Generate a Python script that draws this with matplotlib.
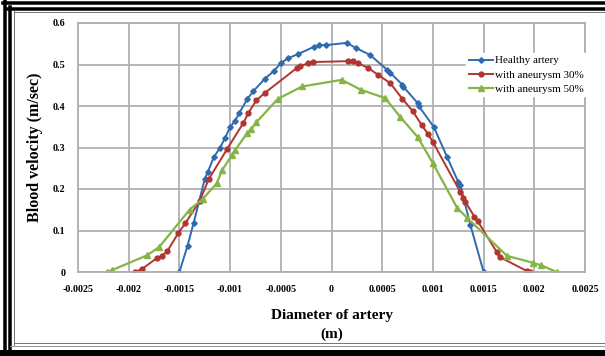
import matplotlib
matplotlib.use('Agg')
import matplotlib.pyplot as plt
from matplotlib.lines import Line2D

# data
healthy_x = [-0.0015, -0.00142, -0.00136, -0.00125, -0.00122, -0.00116, -0.0011, -0.00105, -0.0010,
             -0.00095, -0.00091, -0.00083, -0.00077, -0.00066, -0.00057, -0.0005, -0.00043, -0.00033,
             -0.00017, -0.00012, -0.00005, 0.00015, 0.00024, 0.00038, 0.00055, 0.00058, 0.0007,
             0.00071, 0.00085, 0.00086, 0.00101, 0.00114, 0.00125, 0.00127, 0.00137, 0.0015]
healthy_y = [0, 0.063, 0.118, 0.224, 0.241, 0.277, 0.299, 0.323, 0.349, 0.365, 0.383, 0.417,
             0.436, 0.465, 0.484, 0.503, 0.515, 0.525, 0.543, 0.547, 0.547, 0.552, 0.540, 0.523,
             0.487, 0.480, 0.451, 0.446, 0.407, 0.400, 0.349, 0.277, 0.217, 0.21, 0.113, 0]

an30_x = [-0.00194, -0.00187, -0.00172, -0.00167, -0.00162, -0.00151, -0.00144, -0.0013, -0.00121,
          -0.00103, -0.00087, -0.00082, -0.00074, -0.00066, -0.00034, -0.00031, -0.00023, -0.00018,
          0.00016, 0.00021, 0.00026, 0.00036, 0.00046, 0.00058, 0.0007, 0.0008, 0.00089, 0.00095,
          0.001, 0.00127, 0.0013, 0.00132, 0.00141, 0.00144, 0.00163, 0.00166, 0.00193, 0.00196]
an30_y = [0, 0.007, 0.034, 0.039, 0.05, 0.094, 0.118, 0.171, 0.224, 0.296, 0.359, 0.383, 0.414,
          0.431, 0.492, 0.496, 0.503, 0.506, 0.508, 0.508, 0.503, 0.492, 0.475, 0.455, 0.417,
          0.388, 0.354, 0.333, 0.313, 0.193, 0.178, 0.169, 0.133, 0.123, 0.048, 0.036, 0.002, 0]

an50_x = [-0.00221, -0.00216, -0.00182, -0.0017, -0.0014, -0.00127, -0.00113, -0.00108, -0.00098,
          -0.00095, -0.00083, -0.00079, -0.00074, -0.00053, -0.00029, 0.0001, 0.00029, 0.00053,
          0.00068, 0.00085, 0.001, 0.00124, 0.00134, 0.00173, 0.00199, 0.00207, 0.00222]
an50_y = [0, 0.005, 0.04, 0.06, 0.15, 0.176, 0.214, 0.245, 0.282, 0.294, 0.335, 0.345, 0.361,
          0.417, 0.447, 0.463, 0.439, 0.419, 0.373, 0.325, 0.262, 0.154, 0.13, 0.039, 0.022,
          0.016, 0]

x_ticks = [-0.0025, -0.002, -0.0015, -0.001, -0.0005, 0, 0.0005, 0.001, 0.0015, 0.002, 0.0025]
x_labels = ['-0.0025', '-0.002', '-0.0015', '-0.001', '-0.0005', '0',
            '0.0005', '0.001', '0.0015', '0.002', '0.0025']
y_ticks = [0, 0.1, 0.2, 0.3, 0.4, 0.5, 0.6]
y_labels = ['0', '0.1', '0.2', '0.3', '0.4', '0.5', '0.6']

W, H = 605, 356
fig = plt.figure(figsize=(W / 100, H / 100), dpi=100)
ax = fig.add_axes([78 / W, 1 - 272 / H, (585 - 78) / W, (272 - 23) / H])

ax.plot(healthy_x, healthy_y, color='#2F6AB0', lw=1.4, marker='D', ms=2.8, label='Healthy artery')
ax.plot(an30_x, an30_y, color='#B03530', lw=1.4, marker='o', ms=3.5, label='with aneurysm 30%')
ax.plot(an50_x, an50_y, color='#86B445', lw=1.6, marker='^', ms=5, label='with aneurysm 50%')

ax.set_xlim(-0.0025, 0.0025)
ax.set_ylim(0, 0.6)
ax.set_xticks(x_ticks)
ax.set_xticklabels(x_labels)
ax.set_yticks(y_ticks)
ax.set_yticklabels(y_labels)
for lab in ax.get_xticklabels() + ax.get_yticklabels():
    lab.set_fontfamily('Liberation Serif')
    lab.set_fontweight('bold')
    lab.set_fontsize(7.2)
ax.tick_params(axis='x', length=0, pad=9)
ax.tick_params(axis='y', length=0, pad=9)
ax.grid(True, color='#B0B0B0', lw=1.3)
ax.set_axisbelow(True)
for s in ax.spines.values():
    s.set_color('#B0B0B0')
    s.set_linewidth(1.3)

ax.set_ylabel('Blood velocity (m/sec)', family='Liberation Serif', fontweight='bold',
              fontsize=11.5, labelpad=7)
fig.text(332 / W, 1 - 315 / H, 'Diameter of artery', ha='center', va='center',
         family='Liberation Serif', fontweight='bold', fontsize=11)
fig.text(332 / W, 1 - 334 / H, '(m)', ha='center', va='center',
         family='Liberation Serif', fontweight='bold', fontsize=11)

leg = ax.legend(loc='upper left', bbox_to_anchor=(0.755, 0.9), frameon=True, fancybox=False,
                edgecolor='white', facecolor='white', framealpha=1, handlelength=2.2,
                handletextpad=0.2, borderpad=0.2, labelspacing=0.4,
                prop={'family': 'Liberation Serif', 'size': 8})

# picture frame
def hline(y, x0, x1, lw, c='black'):
    fig.add_artist(Line2D([x0 / W, x1 / W], [1 - y / H, 1 - y / H], color=c, lw=lw * 0.72))

def vline(x, y0, y1, lw, c='black'):
    fig.add_artist(Line2D([x / W, x / W], [1 - y0 / H, 1 - y1 / H], color=c, lw=lw * 0.72))

hline(2.5, 3, W, 3.5)
hline(8.5, 8, W, 3.5)
hline(12, 14, W, 1, '#777777')
vline(4.5, 1, H, 3.5)
vline(10, 7, 352, 3.5)
vline(14, 11, 346, 1, '#777777')
hline(343, 14, W, 1, '#777777')
hline(346, 10, W, 1, '#999999')
hline(353, 0, W, 6)

fig.savefig('out.png', dpi=100)
